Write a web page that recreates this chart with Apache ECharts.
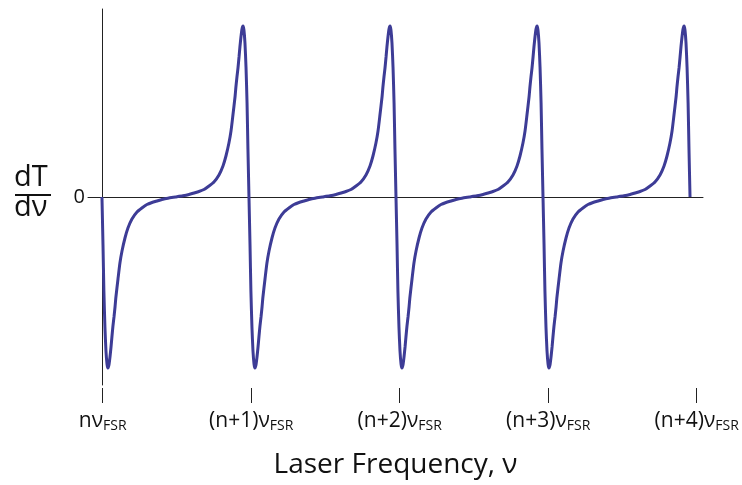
<!DOCTYPE html>
<html>
<head>
<meta charset="utf-8">
<script src="https://cdn.jsdelivr.net/npm/echarts@6/dist/echarts.min.js"></script>
<style>
  html, body { margin: 0; padding: 0; background: #fff; }
  #chart { width: 742px; height: 485px; }
</style>
</head>
<body>
<div id="chart"></div>
<script>
// tick labels on the frequency axis (value = multiple of the FSR)
var tickValues = [0, 1, 2, 3, 4];
var tickLabels = ["nν", "(n+1)ν", "(n+2)ν", "(n+3)ν", "(n+4)ν"];
var tickSub = "FSR";

// where each resonance sits on the drawn curve
var resonances = [-0.005, 0.985, 1.975, 2.965];

// one period of dT/dν: offset from resonance, value
var periodOffset = [0, 0.007, 0.013, 0.020, 0.027, 0.034, 0.040, 0.047, 0.054, 0.061,
  0.067, 0.074, 0.081, 0.088, 0.094, 0.108, 0.121, 0.135, 0.155, 0.175,
  0.202, 0.236, 0.269, 0.303, 0.337, 0.370, 0.404, 0.444, 0.495, 0.545,
  0.586, 0.620, 0.653, 0.687, 0.721, 0.754, 0.788, 0.815, 0.835, 0.855,
  0.869, 0.882, 0.896, 0.902, 0.909, 0.916, 0.923, 0.929, 0.936, 0.943,
  0.950, 0.956, 0.963, 0.970, 0.977, 0.983, 0.990];
var periodValue = [0, -48, -94, -130, -154, -167, -171, -168, -160, -150,
  -140, -129, -120, -110, -100, -82, -66, -54, -41, -31,
  -22, -15, -11, -7.5, -5.5, -4, -2.5, -1.2, 0, 1.2,
  2.5, 4, 5.5, 7.5, 11, 15, 22, 31, 41, 54,
  66, 82, 100, 110, 120, 129, 140, 150, 160, 168,
  171, 167, 154, 130, 94, 48, 0];

var curve = [];
resonances.forEach(function (r, k) {
  periodOffset.forEach(function (d, i) {
    if (k > 0 && i === 0) return; // shared point with previous period
    curve.push([r + d, periodValue[i]]);
  });
});

var FONT = "Open Sans";
var chart = echarts.init(document.getElementById("chart"));

chart.setOption({
  animation: false,
  grid: { left: 88, right: 39, top: 9, bottom: 100 },
  xAxis: [
    {
      // the zero line
      type: "value",
      position: "top",
      min: -0.099,
      max: 4.0424,
      axisLine: { show: true, onZero: true, lineStyle: { color: "#222", width: 1 } },
      axisTick: { show: false },
      axisLabel: { show: false },
      splitLine: { show: false }
    },
    {
      type: "value",
      position: "bottom",
      offset: 3,
      min: -0.099,
      max: 4.0424,
      name: "Laser Frequency, ν",
      nameLocation: "middle",
      nameGap: 63,
      nameTextStyle: { fontFamily: FONT, fontSize: 28, color: "#111" },
      axisLine: { show: false },
      axisTick: {
        show: true,
        customValues: tickValues,
        length: 15,
        lineStyle: { color: "#222", width: 1 }
      },
      axisLabel: {
        show: true,
        customValues: tickValues,
        margin: 21,
        formatter: function (v) {
          var i = tickValues.indexOf(Math.round(v));
          return "{m|" + tickLabels[i] + "}{s|" + tickSub + "}";
        },
        rich: {
          m: { fontFamily: FONT, fontSize: 21, color: "#111" },
          s: { fontFamily: FONT, fontSize: 14, color: "#111", padding: [10, 0, 0, 0] }
        }
      },
      splitLine: { show: false }
    }
  ],
  yAxis: {
    type: "value",
    min: -188,
    max: 188,
    axisLine: { show: true, onZero: true, onZeroAxisIndex: 0, lineStyle: { color: "#222", width: 1 } },
    axisTick: { show: false },
    axisLabel: {
      show: true,
      customValues: [0],
      margin: 3,
      fontFamily: FONT,
      fontSize: 20,
      color: "#111"
    },
    splitLine: { show: false }
  },
  graphic: [
    { type: "text", left: 14, top: 163, style: { text: "dT", font: "29px " + FONT, fill: "#111" } },
    { type: "line", shape: { x1: 15, y1: 195, x2: 51, y2: 195 }, style: { stroke: "#111", lineWidth: 2 } },
    { type: "text", left: 14, top: 193, style: { text: "dν", font: "29px " + FONT, fill: "#111" } }
  ],
  series: [
    {
      type: "line",
      xAxisIndex: 0,
      data: curve,
      showSymbol: false,
      smooth: 0.2,
      lineStyle: { color: "#3d3c96", width: 3 }
    }
  ]
});
</script>
</body>
</html>
